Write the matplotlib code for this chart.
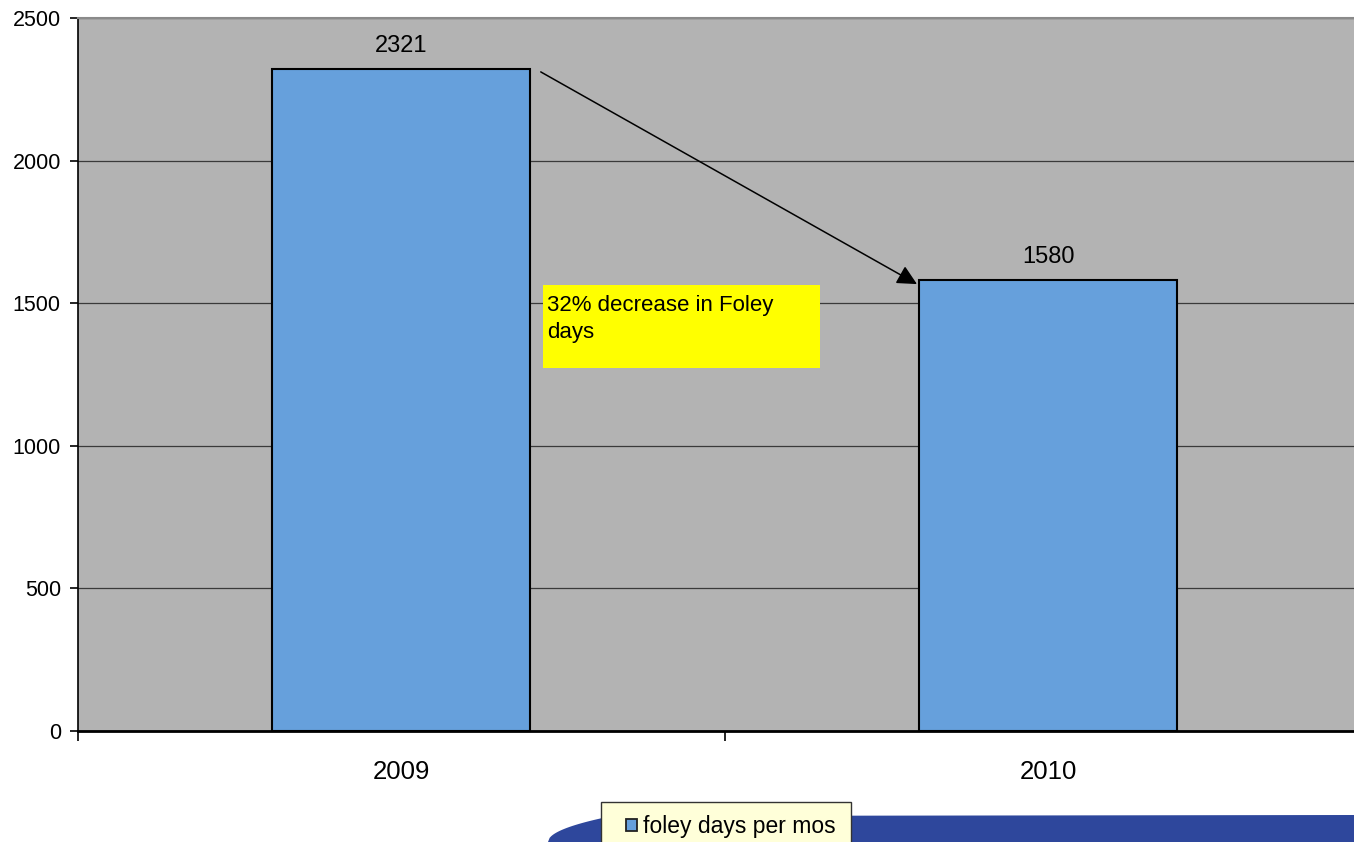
import matplotlib
matplotlib.use("Agg")
import matplotlib.pyplot as plt
from matplotlib.patches import Rectangle, Polygon
import numpy as np

plt.rcParams['font.family'] = ['Liberation Sans', 'DejaVu Sans']

categories = ["2009", "2010"]
values = [2321, 1580]
series_name = "foley days per mos"
yticks = [0, 500, 1000, 1500, 2000, 2500]
note_text = "32% decrease in Foley\ndays"

BAR_COLOR = "#66a0dc"
W, H = 1354, 842
fig = plt.figure(figsize=(W / 100, H / 100), dpi=100)
fig.patch.set_facecolor("white")


def fx(px):
    return px / W


def fy(py):
    return 1 - py / H


# decorative blue swoosh at bottom (figure pixel coords)
sx = np.linspace(548, 612, 40)
sy = 842 - 26 * np.sqrt((sx - 548) / 64.0)
pts = [(x, y) for x, y in zip(sx, sy)] + [(W, 815), (W, 842)]
pts = [(fx(x), fy(y)) for x, y in pts]
fig.patches.append(Polygon(pts, closed=True, transform=fig.transFigure,
                           facecolor="#2e479c", edgecolor="none", zorder=0))

ax = fig.add_axes([fx(77.5), fy(731), (1371.5 - 77.5) / W, 713 / H])
ax.set_facecolor("#b3b3b3")
x = np.arange(len(categories))
bars = ax.bar(x, values, width=0.4, color=BAR_COLOR, edgecolor="black",
              linewidth=1.5, zorder=3, label=series_name)

ax.set_xlim(-0.5, len(categories) - 0.5)
ax.set_ylim(0, 2500)
ax.set_yticks(yticks)
ax.set_yticklabels([str(v) for v in yticks], fontsize=15.5)
ax.yaxis.grid(True, color="#3a3a3a", linewidth=0.9, zorder=1)
ax.set_axisbelow(True)

ax.set_xticks(x)
ax.set_xticklabels(categories, fontsize=18.5)
ax.tick_params(axis="x", which="major", length=0, pad=21)
ax.set_xticks(np.arange(-0.5, len(categories), 1.0), minor=True)
ax.tick_params(axis="x", which="minor", length=7, width=1.2, direction="out", color="black")
ax.tick_params(axis="y", length=6, width=1.2, direction="out", pad=6)

for s in ["left", "bottom"]:
    ax.spines[s].set_color("black")
ax.spines["left"].set_linewidth(1.2)
ax.spines["bottom"].set_linewidth(2)
ax.spines["top"].set_color("#8a8a8a")
ax.spines["top"].set_linewidth(1.5)
ax.spines["right"].set_visible(False)

for xi, v in zip(x, values):
    ax.annotate(str(v), (xi, v), xytext=(0, 9), textcoords="offset points",
                ha="center", va="bottom", fontsize=17, zorder=5)

# arrow from 2009 bar to 2010 bar
ax.annotate("", xy=(1 - 0.2025, values[1] - 13), xytext=(0.216, values[0] - 10),
            arrowprops=dict(arrowstyle="-|>", color="black", lw=1.1,
                            mutation_scale=30, shrinkA=0, shrinkB=0), zorder=6)

# yellow note box
ax.add_patch(Rectangle((0.2195, 1273), 0.6476 - 0.2195, 1564 - 1273,
                       facecolor="#ffff00", edgecolor="none", zorder=4))
ax.text(0.2255, 1530, note_text, ha="left", va="top", fontsize=16,
        linespacing=1.4, zorder=5)

# legend (drawn as figure artists)
fig.patches.append(Rectangle((fx(601), fy(850)), fx(851) - fx(601), fy(802) - fy(850),
                             transform=fig.transFigure, facecolor="#ffffd9",
                             edgecolor="#333333", linewidth=1, zorder=2))
fig.patches.append(Rectangle((fx(626), fy(831)), fx(637) - fx(626), fy(819) - fy(831),
                             transform=fig.transFigure, facecolor=BAR_COLOR,
                             edgecolor="#222222", linewidth=1.3, zorder=3))
fig.text(fx(643), fy(826), series_name, ha="left", va="center",
         fontsize=16.5, zorder=4)

fig.savefig("out.png", dpi=100, facecolor="white")
